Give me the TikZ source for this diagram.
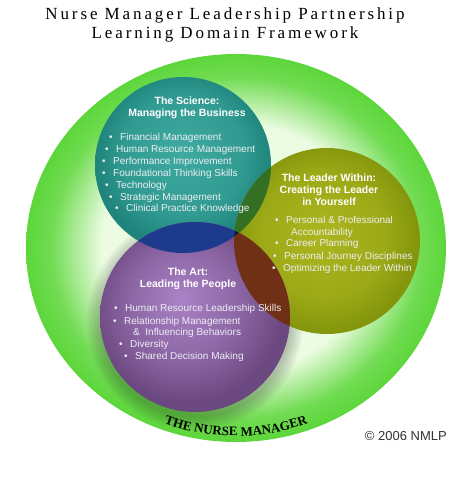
\documentclass[tikz,border=0pt]{standalone}
\usepackage{fontspec}
\setmainfont{Liberation Serif}
\setsansfont{Liberation Sans}
\newfontfamily\titlefont[LetterSpace=17]{Liberation Serif}
\usetikzlibrary{decorations.text}
\definecolor{ringgreen}{RGB}{92, 214, 58}
\definecolor{ringpale}{RGB}{236, 252, 226}
\definecolor{scilight}{RGB}{62, 170, 160}
\definecolor{scidark}{RGB}{30, 132, 124}
\definecolor{leadlight}{RGB}{172, 182, 30}
\definecolor{leaddark}{RGB}{132, 150, 12}
\definecolor{artlight}{RGB}{170, 130, 198}
\definecolor{artdark}{RGB}{108, 72, 128}
\definecolor{sciart}{RGB}{30, 58, 140}
\definecolor{scilead}{RGB}{52, 112, 36}
\definecolor{leadart}{RGB}{112, 48, 22}
\definecolor{triple}{RGB}{18, 24, 70}
\definecolor{bullettext}{RGB}{238, 238, 244}
\pgfdeclareradialshading{ringshade}{\pgfpoint{0bp}{0bp}}{color(0bp)=(ringpale); color(16bp)=(ringpale); color(22bp)=(ringgreen!85!ringpale); color(25bp)=(ringgreen); color(50bp)=(ringgreen)}
\pgfdeclareradialshading{scishade}{\pgfpoint{0bp}{4bp}}{color(0bp)=(scilight); color(17bp)=(scilight!60!scidark); color(25bp)=(scidark); color(50bp)=(scidark)}
\pgfdeclareradialshading{leadshade}{\pgfpoint{-2bp}{2bp}}{color(0bp)=(leadlight); color(17bp)=(leadlight!60!leaddark); color(25bp)=(leaddark); color(50bp)=(leaddark)}
\pgfdeclareradialshading{artshade}{\pgfpoint{-4bp}{5bp}}{color(0bp)=(artlight); color(15bp)=(artlight!50!artdark); color(25bp)=(artdark); color(50bp)=(artdark)}
\newcommand{\bul}{\textbullet\hspace{0.75em}}
\newcommand{\nmfont}{\fontsize{13}{13}\selectfont\bfseries}
\tikzset{
	heading/.style={align=center, inner sep=0pt, text=white, font=\sffamily\bfseries\fontsize{10.5}{12}\selectfont},
	item/.style={anchor=base west, inner sep=0pt, text=bullettext, font=\sffamily\fontsize{10}{12}\selectfont},
	title/.style={anchor=base, inner sep=0pt, text=black, font=\titlefont\fontsize{17}{19}\selectfont},
	halo/.style={fill=black, opacity=0.035},
}

\begin{document}
\begin{tikzpicture}[x=1pt, y=1pt]
	\useasboundingbox[fill=white] (0,0) rectangle (474,496);
	\coordinate (ring) at (236,248);
	\coordinate (sci) at (183,331);
	\coordinate (lead) at (327,255);
	\coordinate (art) at (195,179);
	% outer ring
	\shade[shading=ringshade] (ring) ellipse [x radius=210, y radius=194];
	% soft shadow under the art circle
	\foreach \r in {96,98,...,108}
		\fill[halo] (art) ++(0,-5) circle [radius=\r];
	% the three domains
	\shade[shading=scishade] (sci) circle [radius=88];
	\shade[shading=leadshade] (lead) circle [radius=93];
	\shade[shading=artshade] (art) circle [radius=95];
	% overlaps
	\begin{scope}
		\clip (sci) circle [radius=88];
		\fill[sciart] (art) circle [radius=95];
		\fill[scilead] (lead) circle [radius=93];
		\clip (lead) circle [radius=93];
		\fill[triple] (art) circle [radius=95];
	\end{scope}
	\begin{scope}
		\clip (lead) circle [radius=93];
		\clip (art) circle [radius=95];
		\fill[leadart, even odd rule] (sci) circle [radius=88] (0,0) rectangle (474,496);
	\end{scope}
	% title
	\node[title] (title1) at (225,476) {Nurse Manager Leadership Partnership};
	\node[title] (title2) at (225,457.5) {Learning Domain Framework};
	% the science
	\node[heading] (scihead) at (187,388.5) {The Science:\\Managing the Business};
	\node[item] (sci1) at (109,355.5) {\bul Financial Management};
	\node[item] (sci2) at (105,343.5) {\bul Human Resource Management};
	\node[item] (sci3) at (102,331.5) {\bul Performance Improvement};
	\node[item] (sci4) at (102,319.5) {\bul Foundational Thinking Skills};
	\node[item] (sci5) at (105,307.5) {\bul Technology};
	\node[item] (sci6) at (109,295.5) {\bul Strategic Management};
	\node[item] (sci7) at (115,284.5) {\bul Clinical Practice Knowledge};
	% the leader within
	\node[heading] (leadhead) at (329,306.5) {The Leader Within:\\Creating the Leader\\in Yourself};
	\node[item] (lead1) at (275,272.5) {\bul Personal \& Professional};
	\node[item] (lead1b) at (291,260.5) {Accountability};
	\node[item] (lead2) at (275,249.5) {\bul Career Planning};
	\node[item] (lead3) at (273,236.5) {\bul Personal Journey Disciplines};
	\node[item] (lead4) at (272,224.5) {\bul Optimizing the Leader Within};
	% the art
	\node[heading] (arthead) at (188,217.5) {The Art:\\Leading the People};
	\node[item] (art1) at (114,184.5) {\bul Human Resource Leadership Skills};
	\node[item] (art2) at (113,171.5) {\bul Relationship Management};
	\node[item] (art2b) at (133,160.5) {\&\ \ Influencing Behaviors};
	\node[item] (art3) at (119,148.5) {\bul Diversity};
	\node[item] (art4) at (124,136.5) {\bul Shared Decision Making};
	% ring label and copyright
	\path[decorate, decoration={text along path, text align=center, text={|\nmfont|THE NURSE MANAGER}}]
		(ring) ++(235:200 and 188) arc [start angle=235, end angle=305, x radius=200, y radius=188];
	\node[anchor=base east, inner sep=0pt, text=black!80, font=\sffamily\fontsize{13}{13}\selectfont] (copy) at (447,56) {\textcopyright{} 2006 NMLP};
\end{tikzpicture}
\end{document}
